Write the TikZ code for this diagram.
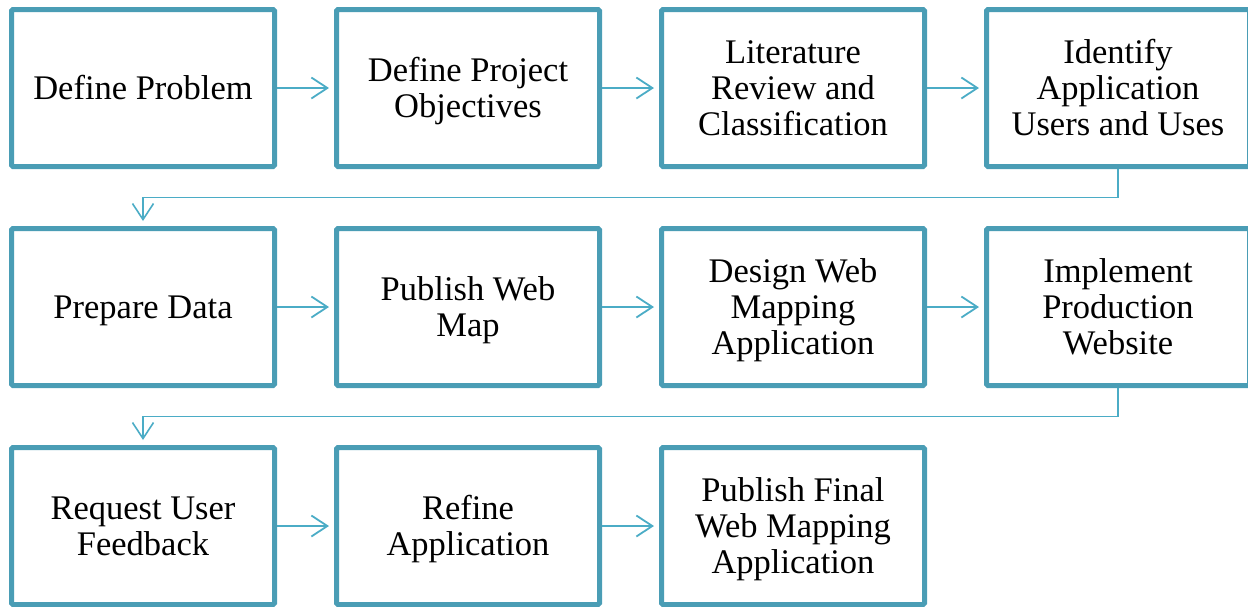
\documentclass[tikz,border=0pt]{standalone}
\usepackage{fontspec}
\setmainfont{Liberation Serif}
\usetikzlibrary{arrows.meta}
\definecolor{boxc}{HTML}{4A9DB5}
\definecolor{arrc}{HTML}{4BACC6}
\newcommand\lineT[1]{\rule[-6.3pt]{0pt}{36pt}\smash{#1}}
\begin{document}
\begin{tikzpicture}[x=1pt,y=-1pt,
  stepbox/.style={draw=boxc, line width=5pt, fill=white, rounded corners=1.5pt,
    minimum width=263pt, minimum height=157pt, inner sep=0pt, outer sep=2.5pt,
    align=center, font=\fontsize{34.5}{36}\selectfont, text=black},
  arr/.style={draw=arrc, line width=1.8pt,
    -{Straight Barb[length=16pt,width=21pt]}, shorten >=5pt},
  elbow/.style={draw=arrc, line width=1.6pt,
    -{Straight Barb[length=16pt,width=21pt]}, shorten >=5pt}]
\useasboundingbox (0,0) rectangle (1248,606);
\node[stepbox] (a) at (143,88) {\lineT{Define Problem}};
\node[stepbox] (b) at (468,88) {\lineT{Define Project}\\\lineT{Objectives}};
\node[stepbox] (c) at (793,88) {\lineT{Literature}\\\lineT{Review and}\\\lineT{Classification}};
\node[stepbox] (d) at (1118,88) {\lineT{Identify}\\\lineT{Application}\\\lineT{Users and Uses}};
\node[stepbox] (e) at (143,307) {\lineT{Prepare Data}};
\node[stepbox] (f) at (468,307) {\lineT{Publish Web}\\\lineT{Map}};
\node[stepbox] (g) at (793,307) {\lineT{Design Web}\\\lineT{Mapping}\\\lineT{Application}};
\node[stepbox] (h) at (1118,307) {\lineT{Implement}\\\lineT{Production}\\\lineT{Website}};
\node[stepbox] (i) at (143,526) {\lineT{Request User}\\\lineT{Feedback}};
\node[stepbox] (j) at (468,526) {\lineT{Refine}\\\lineT{Application}};
\node[stepbox] (k) at (793,526) {\lineT{Publish Final}\\\lineT{Web Mapping}\\\lineT{Application}};
\draw[arr] (a.east) -- (b.west);
\draw[arr] (b.east) -- (c.west);
\draw[arr] (c.east) -- (d.west);
\draw[elbow] (d.south) -- ++(0,28.5) -| (e.north);
\draw[arr] (e.east) -- (f.west);
\draw[arr] (f.east) -- (g.west);
\draw[arr] (g.east) -- (h.west);
\draw[elbow] (h.south) -- ++(0,28.5) -| (i.north);
\draw[arr] (i.east) -- (j.west);
\draw[arr] (j.east) -- (k.west);
\end{tikzpicture}
\end{document}
